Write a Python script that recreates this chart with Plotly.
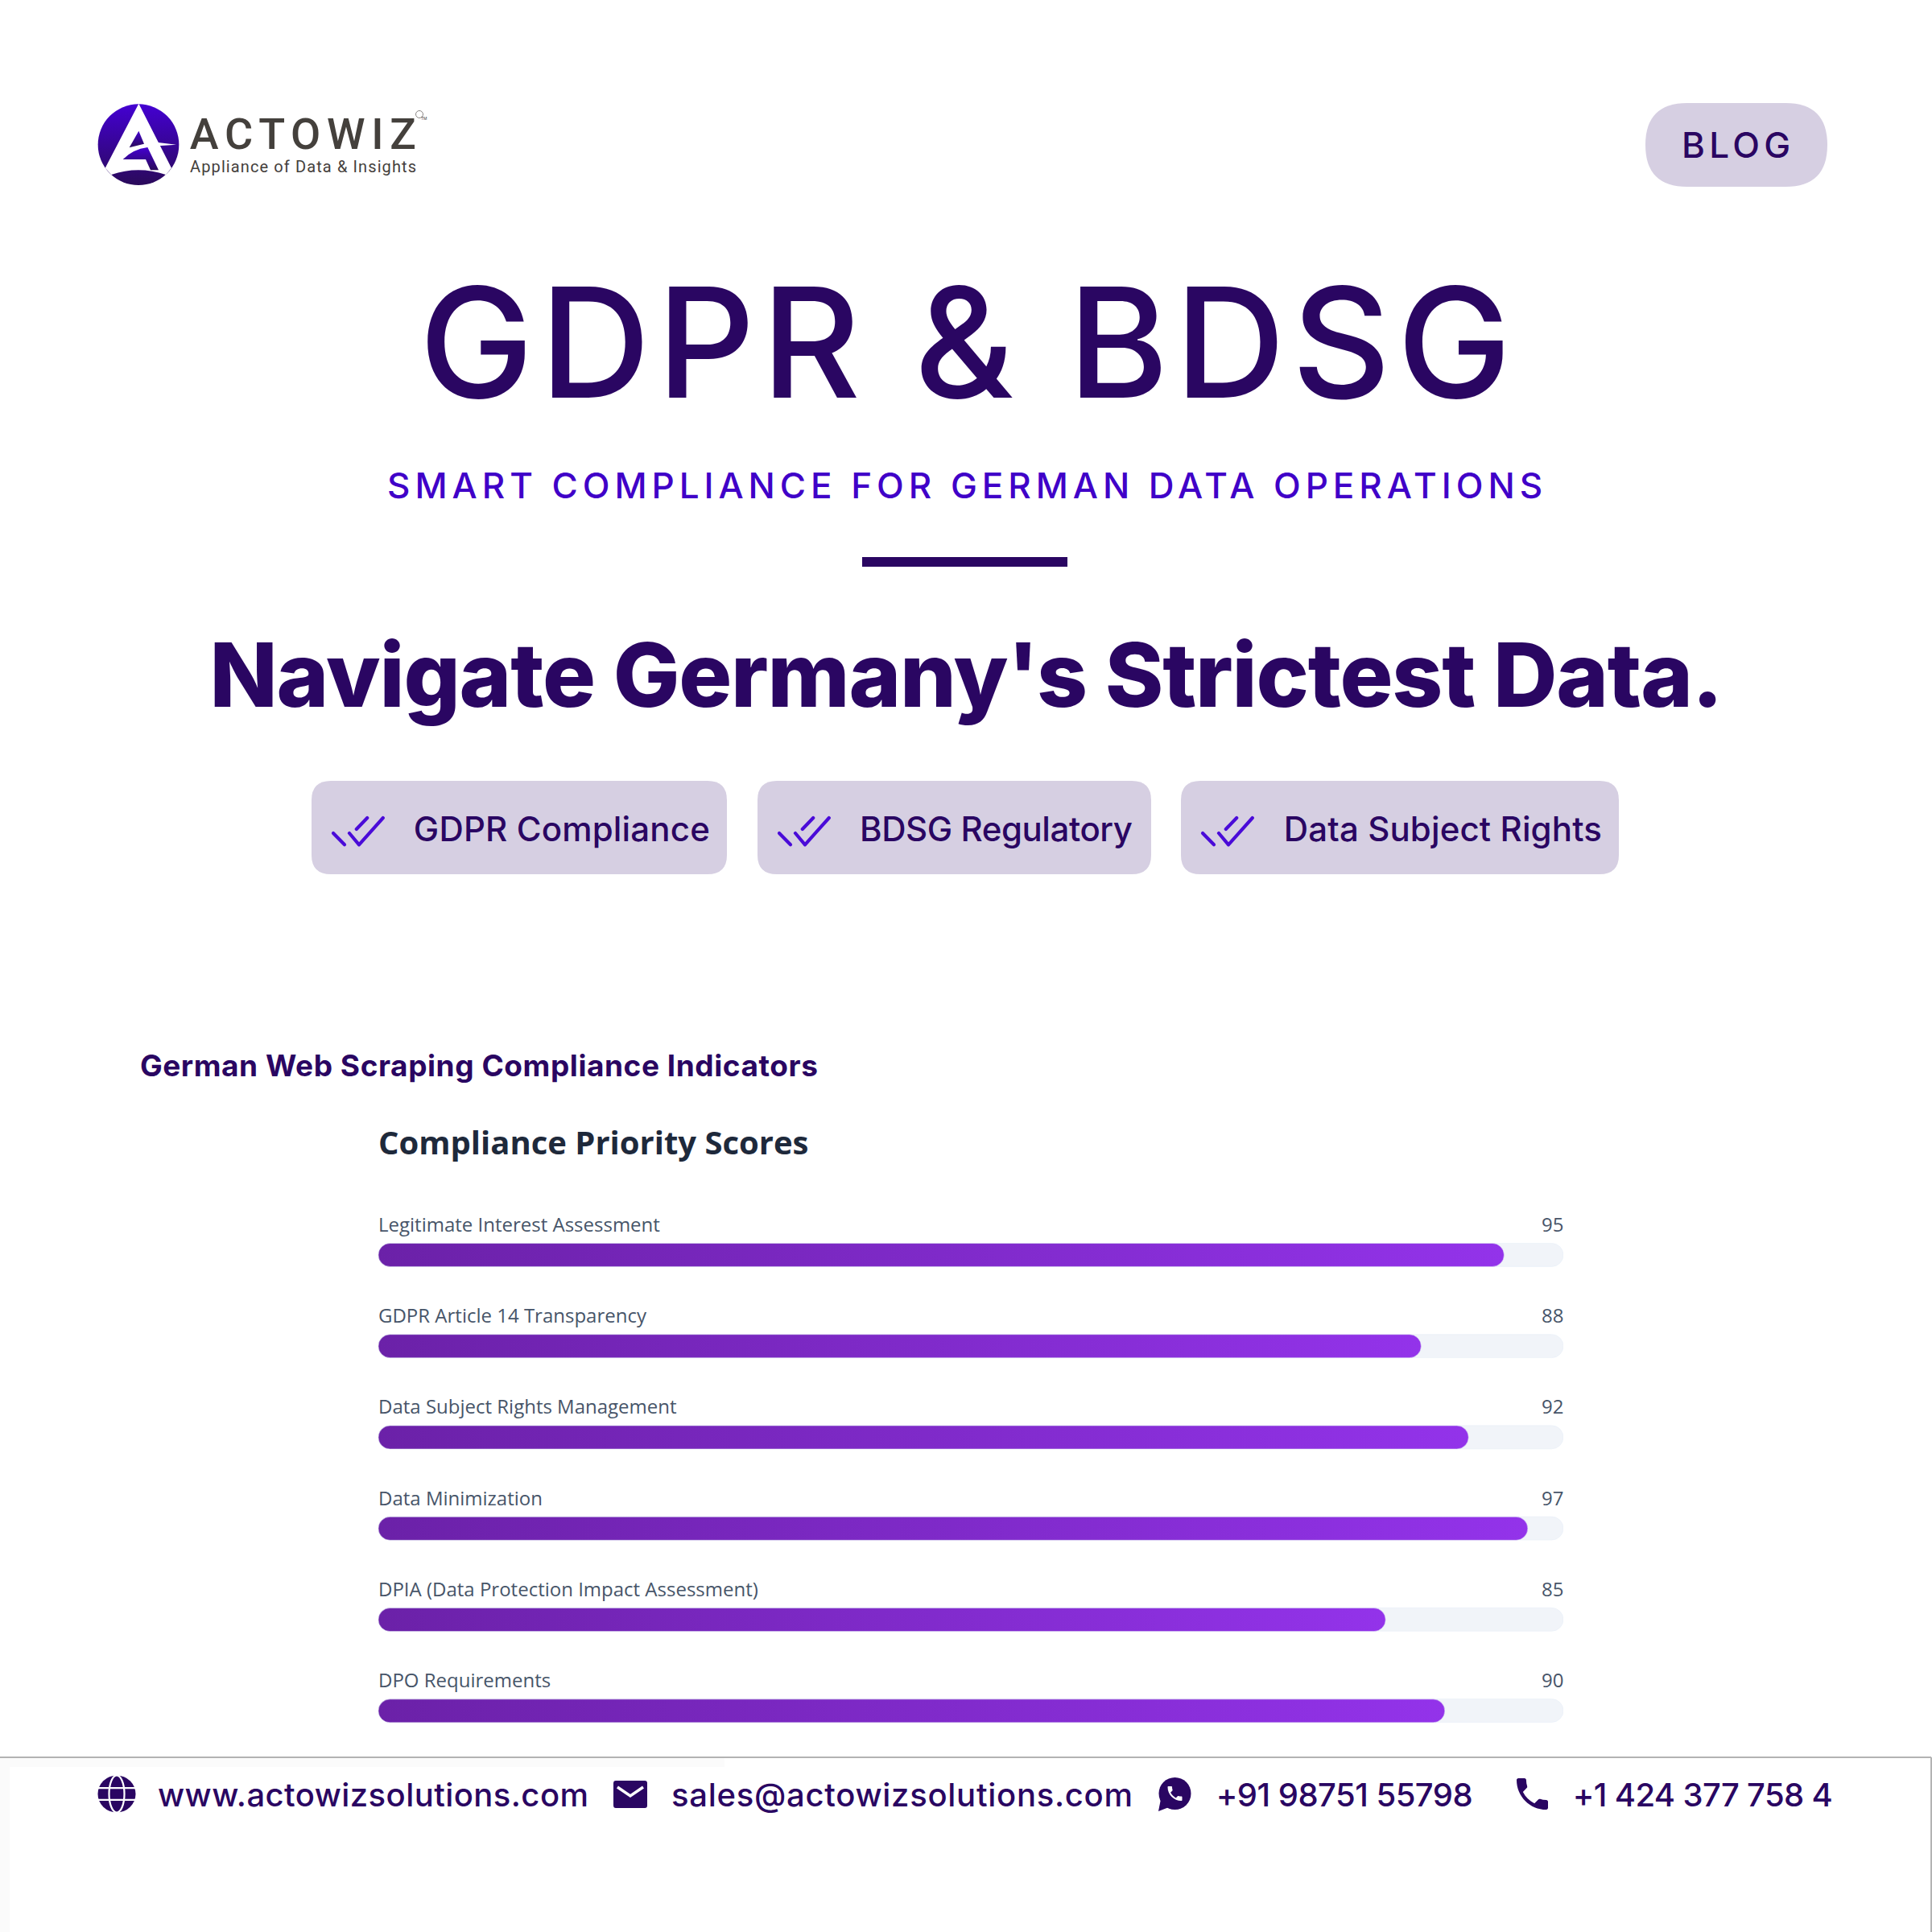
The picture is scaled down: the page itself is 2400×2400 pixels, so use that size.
import base64
import json

import plotly.graph_objects as go

# chart data
categories = ["Legitimate Interest Assessment", "GDPR Article 14 Transparency",
              "Data Subject Rights Management", "Data Minimization",
              "DPIA (Data Protection Impact Assessment)", "DPO Requirements"]
scores = [95, 88, 92, 97, 85, 90]
track = [100, 100, 100, 100, 100, 100]

# page texts
badge_labels = ["GDPR Compliance", "BDSG Regulatory", "Data Subject Rights"]
footer_labels = ["www.actowizsolutions.com", "sales@actowizsolutions.com",
                 "+91 98751 55798", "+1 424 377 758 4"]

W = 2400
DARK = "#2a0662"
VIOLET = "#4000c8"
PILL = "#d6cfe2"
LABEL = "#475569"
HEAD_FONT = "Inter"
CHART_FONT = "Open Sans"

fit_widths = {}


def px(x):
    return x / W


def py(y):
    return 1 - y / W


def page_text(text, x0, x1, yc, size, color=DARK, weight=400, family=HEAD_FONT):
    # text is centred between x0 and x1, the script below stretches it to that width
    fit_widths[text] = x1 - x0
    fig.add_annotation(text=text, xref="paper", yref="paper", x=px((x0 + x1) / 2), y=py(yc),
                       xanchor="center", yanchor="middle", showarrow=False,
                       font=dict(family=family, size=size, color=color, weight=weight))


def round_rect(x0, y0, x1, y1, r, color):
    path = (f"M{px(x0 + r)},{py(y0)} L{px(x1 - r)},{py(y0)} "
            f"Q{px(x1)},{py(y0)} {px(x1)},{py(y0 + r)} L{px(x1)},{py(y1 - r)} "
            f"Q{px(x1)},{py(y1)} {px(x1 - r)},{py(y1)} L{px(x0 + r)},{py(y1)} "
            f"Q{px(x0)},{py(y1)} {px(x0)},{py(y1 - r)} L{px(x0)},{py(y0 + r)} "
            f"Q{px(x0)},{py(y0)} {px(x0 + r)},{py(y0)} Z")
    fig.add_shape(type="path", path=path, xref="paper", yref="paper",
                  fillcolor=color, line_width=0, layer="below")


def svg_image(svg, x, y, w, h):
    src = "data:image/svg+xml;base64," + base64.b64encode(svg.encode()).decode()
    fig.add_layout_image(source=src, xref="paper", yref="paper", x=px(x), y=py(y),
                         sizex=w / W, sizey=h / W, xanchor="left", yanchor="top",
                         sizing="stretch", layer="above")


fig = go.Figure()

# grey track behind, score bar on top, on separate axes so the two don't interact
fig.add_trace(go.Bar(y=categories, x=track, orientation="h", marker_color="#f1f4f9",
                     hoverinfo="skip", xaxis="x", yaxis="y"))
fig.add_trace(go.Bar(y=categories, x=scores, orientation="h", marker_color="#7f2bd0",
                     xaxis="x2", yaxis="y2"))

x_domain = [px(470), px(1942)]
y_domain = [py(2182), py(1502.3)]
fig.update_layout(
    width=W, height=W, margin=dict(l=0, r=0, t=0, b=0), showlegend=False,
    paper_bgcolor="white", plot_bgcolor="white", barmode="overlay", bargap=0.744,
    xaxis=dict(domain=x_domain, range=[0, 100], visible=False),
    yaxis=dict(domain=y_domain, autorange="reversed", visible=False, type="category"),
    xaxis2=dict(domain=x_domain, range=[0, 100], visible=False, overlaying="x", anchor="y2"),
    yaxis2=dict(domain=y_domain, autorange="reversed", visible=False, type="category",
                overlaying="y", anchor="x2"),
    title=dict(text="Compliance Priority Scores", x=px(470), xref="paper", xanchor="left",
               y=py(1420), yref="paper", yanchor="middle",
               font=dict(family=CHART_FONT, size=40, color="#1e293b", weight=700)),
)

# labels above each bar
for cat, score in zip(categories, scores):
    fig.add_annotation(text=cat, x=0, y=cat, xref="x", yref="y", xanchor="left", yanchor="middle",
                       yshift=38.5, showarrow=False, xshift=-2,
                       font=dict(family=CHART_FONT, size=24, color=LABEL))
    fig.add_annotation(text=str(score), x=100, y=cat, xref="x", yref="y", xanchor="right",
                       yanchor="middle", yshift=38.5, showarrow=False, xshift=2,
                       font=dict(family=CHART_FONT, size=24, color=LABEL))

# logo
logo = """<svg xmlns="http://www.w3.org/2000/svg" viewBox="0 0 345 345">
<defs><linearGradient id="a" x1="0" y1="0" x2="0" y2="1">
<stop offset="0" stop-color="#4400d2"/><stop offset="1" stop-color="#2a0a5a"/></linearGradient></defs>
<circle cx="171" cy="173" r="151" fill="url(#a)"/>
<path d="M172 20 L294 260 L273 285 Q170 250 70 285 L47 260 Z" fill="#fff"/>
<path d="M172 122 L192 170 L137 184 Z" fill="url(#a)"/>
<path d="M205 183 L246 268 L216 268 L198 228 L113 228 Q150 190 205 183 Z" fill="url(#a)"/>
<path d="M238 164 L312 173 L244 178 Z" fill="#fff"/>
</svg>"""
svg_image(logo, 115, 122, 115, 115)
page_text("ACTOWIZ", 236, 517, 166, 54, color="#44403c", weight=500, family="Roboto")
page_text("Appliance of Data & Insights", 236, 517, 207, 20, color="#44403c", family="Roboto")
fig.add_shape(type="circle", xref="paper", yref="paper", x0=px(516.5), x1=px(525.5),
              y0=py(146.5), y1=py(137.5), line=dict(color="#8a8785", width=1))
fig.add_annotation(text="TM", xref="paper", yref="paper", x=px(521), y=py(142), showarrow=False,
                   font=dict(family="Roboto", size=5, color="#44403c"))

# blog pill
round_rect(2044, 128, 2270, 232, 52, PILL)
page_text("BLOG", 2089, 2224, 180.5, 44, weight=500)

# headings
page_text("GDPR & BDSG", 520, 1877, 425, 190, weight=550)
page_text("SMART COMPLIANCE FOR GERMAN DATA OPERATIONS", 481, 1916, 603, 44, color=VIOLET, weight=500)
fig.add_shape(type="rect", xref="paper", yref="paper", x0=px(1071), x1=px(1326),
              y0=py(704), y1=py(692), fillcolor=DARK, line_width=0)
page_text("Navigate Germany's Strictest Data.", 260, 2140, 838, 110, weight=800)

# badges with a double tick
tick = f"""<svg xmlns="http://www.w3.org/2000/svg" viewBox="410 1012 70 42">
<g fill="none" stroke="#4a0bd8" stroke-width="4.2" stroke-linecap="round" stroke-linejoin="round">
<path d="M414 1035 L428 1049.3"/><path d="M434 1035 L446 1049.3 L475.8 1016"/><path d="M442.8 1030 L456.2 1016"/></g></svg>"""
badge_boxes = [(387, 903), (941, 1430), (1467, 2011)]
badge_text_x = [(514, 882), (1068, 1407), (1595, 1990)]
for label, box, tx in zip(badge_labels, badge_boxes, badge_text_x):
    round_rect(box[0], 970, box[1], 1086, 24, PILL)
    svg_image(tick, box[0] + 23, 1012, 70, 42)
    page_text(label, tx[0], tx[1], 1029, 42, weight=450)

page_text("German Web Scraping Compliance Indicators", 174, 1016, 1323, 37, weight=650)

# footer frame and its faint inner shading
fig.add_shape(type="rect", xref="paper", yref="paper", x0=0, x1=px(12), y0=py(2184), y1=0,
              fillcolor="#fbfbfb", line_width=0, layer="below")
fig.add_shape(type="rect", xref="paper", yref="paper", x0=0, x1=px(900), y0=py(2184), y1=py(2195),
              fillcolor="#fbfbfb", line_width=0, layer="below")
fig.add_shape(type="line", xref="paper", yref="paper", x0=0, x1=px(2399), y0=py(2183), y1=py(2183),
              line=dict(color="#b3b3b3", width=2))
fig.add_shape(type="line", xref="paper", yref="paper", x0=px(2399), x1=px(2399), y0=py(2183), y1=0,
              line=dict(color="#b3b3b3", width=2))

globe = f"""<svg xmlns="http://www.w3.org/2000/svg" viewBox="0 0 48 48">
<circle cx="24" cy="24" r="23.5" fill="{DARK}"/>
<g fill="none" stroke="#fff" stroke-width="2.2"><ellipse cx="24" cy="24" rx="9.5" ry="23.5"/>
<path d="M1 16.5 H47 M1 31.5 H47"/></g></svg>"""
mail = f"""<svg xmlns="http://www.w3.org/2000/svg" viewBox="0 0 42 34">
<rect width="42" height="34" rx="3" fill="{DARK}"/>
<path d="M5 8 L21 19 L37 8" fill="none" stroke="#fff" stroke-width="3.5"/></svg>"""
call = ("M6.62 10.79c1.44 2.83 3.76 5.14 6.59 6.59l2.2-2.2c.27-.27.67-.36 1.02-.24 1.12.37 2.33.57 3.57.57"
        ".55 0 1 .45 1 1V20c0 .55-.45 1-1 1-9.39 0-17-7.61-17-17 0-.55.45-1 1-1h3.5c.55 0 1 .45 1 1 0 1.25"
        ".2 2.45.57 3.57.11.35.03.74-.25 1.02l-2.2 2.2z")
whatsapp = f"""<svg xmlns="http://www.w3.org/2000/svg" viewBox="0 0 42 42">
<circle cx="21.5" cy="20" r="20" fill="{DARK}"/><path d="M1 42 L4 27 L14 37 Z" fill="{DARK}"/>
<g transform="translate(9.5 8)"><path d="{call}" fill="#fff"/></g></svg>"""
phone = f"""<svg xmlns="http://www.w3.org/2000/svg" viewBox="3 3 18 18"><path d="{call}" fill="{DARK}"/></svg>"""

svg_image(globe, 121, 2205, 48, 47)
svg_image(mail, 762, 2212, 42, 34)
svg_image(whatsapp, 1438, 2208, 42, 42)
svg_image(phone, 1884, 2209, 39, 39)

footer_x = [(196, 731), (834, 1407), (1510, 1829), (1954, 2277)]
for label, tx in zip(footer_labels, footer_x):
    page_text(label, tx[0], tx[1], 2229, 40, weight=450)

# plotly has no bar gradient, round-both-ends bars or letter spacing,
# so these are set once the page is drawn
post = """
document.body.style.margin = '0';
var NS = 'http://www.w3.org/2000/svg';
var svg = document.querySelector('.main-svg');
var g = document.createElementNS(NS, 'linearGradient');
g.setAttribute('id', 'barfill');
[['0', '#6b21a8'], ['1', '#9333ea']].forEach(function (s) {
  var st = document.createElementNS(NS, 'stop');
  st.setAttribute('offset', s[0]);
  st.setAttribute('stop-color', s[1]);
  g.appendChild(st);
});
svg.querySelector('defs').appendChild(g);
var layers = document.querySelectorAll('.barlayer .trace.bars');
layers.forEach(function (layer, i) {
  layer.querySelectorAll('path').forEach(function (p) {
    var b = p.getBBox();
    var r = b.height / 2;
    p.setAttribute('d', 'M' + (b.x + r) + ',' + b.y + 'H' + (b.x + b.width - r) +
      'A' + r + ',' + r + ' 0 0 1 ' + (b.x + b.width - r) + ',' + (b.y + b.height) +
      'H' + (b.x + r) + 'A' + r + ',' + r + ' 0 0 1 ' + (b.x + r) + ',' + b.y + 'Z');
    if (i === 1) p.style.fill = 'url(#barfill)';
  });
});
var widths = FIT;
document.querySelectorAll('.annotation-text').forEach(function (t) {
  var w = widths[t.textContent];
  if (!w) return;
  var n = t.textContent.length;
  var ls = (w - t.getComputedTextLength()) / (n - 1);
  t.style.letterSpacing = ls + 'px';
  t.setAttribute('x', parseFloat(t.getAttribute('x')) + ls / 2);
});
""".replace("FIT", json.dumps(fit_widths))

fig.write_html("out.html", post_script=post, config={"displayModeBar": False})
